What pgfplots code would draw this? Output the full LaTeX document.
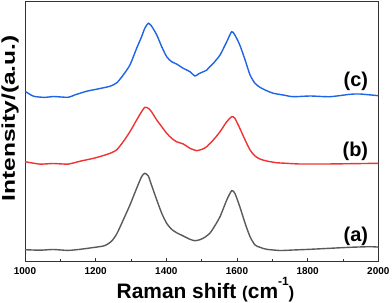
\documentclass[border=0pt]{standalone}
\usepackage{fontspec}
\setmainfont{Liberation Sans}
\usepackage{pgfplots}
\pgfplotsset{compat=1.18}
\definecolor{cblue}{RGB}{30,100,230}
\definecolor{cred}{RGB}{240,50,50}
\definecolor{cgray}{RGB}{90,90,90}
\begin{document}
\begin{tikzpicture}
\begin{axis}[
  at={(25bp,41.3bp)}, anchor=south west,
  scale only axis, width=353.3bp, height=260bp,
  xmin=1000, xmax=2000, ymin=0, ymax=260,
  xtick={1000,1200,...,2000}, minor xtick={1100,1300,...,1900},
  ytick=\empty,
  tick align=inside, xtick pos=lower,
  major tick length=4bp, minor tick length=3bp,
  axis line style={color=black!80, line width=0.8bp},
  every tick/.style={color=black!80, line width=0.8bp},
  /pgf/number format/assume math mode=true,
  /pgf/number format/1000 sep={},
  xticklabel style={font=\bfseries\fontsize{10}{11}\selectfont, yshift=-2bp},
  xlabel={Raman shift {\fontsize{17}{17}\selectfont(}cm\raisebox{0.62em}{\fontsize{12}{12}\selectfont -1}{\fontsize{17}{17}\selectfont)}},
  xlabel style={at={(axis description cs:0.511,-0.1408)}, anchor=base, font=\bfseries\fontsize{21}{22}\selectfont},
  ylabel={\scalebox{1.33}[1]{Intensity/(a.u.)}},
  ylabel style={at={(axis description cs:-0.0425,0.551)}, anchor=center, font=\bfseries\fontsize{18.5}{20}\selectfont},
]
\addplot[color=cgray, line width=1.4bp, smooth, tension=0.4] coordinates {
(1000,12) (1042,11.5) (1080,12.2) (1122,11.3) (1156,12.4) (1194,14.2) (1225,16) (1245,20.5)
(1260,28) (1278,41.7) (1297,56.7) (1316,73.4) (1330,85) (1339,88.4) (1349,85.7) (1358,76.7)
(1373,61.7) (1387,48.4) (1401,38.4) (1415,32.4) (1429,29) (1448,25.7) (1467,22.4) (1481,21)
(1495,22) (1509,24.4) (1523,28.4) (1533,33.4) (1552,45) (1571,61.7) (1585,71) (1594,68.4)
(1608,55) (1623,38.4) (1637,25) (1651,16.7) (1665,14.4) (1684,12.4) (1722,11.2) (1759,11.7)
(1807,12.4) (1863,13.4) (1920,14.4) (1976,15) (2000,14.6)
};
\addplot[color=cred, line width=1.4bp, smooth, tension=0.4] coordinates {
(1000,100) (1042,97.6) (1080,98.2) (1122,97.6) (1156,100.5) (1194,103.4) (1225,106.5) (1245,109)
(1260,112) (1278,120) (1297,130) (1316,141.7) (1330,150) (1339,154.4) (1349,153.4) (1358,150)
(1373,141.7) (1387,135) (1401,128.4) (1415,123.4) (1429,120) (1448,117.7) (1467,113.4) (1486,111)
(1495,111.7) (1505,113) (1514,115) (1533,121.7) (1552,130) (1571,140) (1585,145) (1594,143.4)
(1608,133.4) (1623,121.7) (1637,111.7) (1651,105.7) (1665,102.7) (1684,100.7) (1712,99) (1740,98.4)
(1778,97.7) (1850,97.7) (1920,98) (2000,98.4)
};
\addplot[color=cblue, line width=1.4bp, smooth, tension=0.4] coordinates {
(1000,170.5) (1024,165.5) (1057,164.3) (1080,165.2) (1122,164.4) (1141,166.8) (1175,170.5) (1203,172.5)
(1241,175.5) (1260,179) (1278,186.7) (1297,196.7) (1316,213.4) (1330,225) (1339,233.4)
(1349,238.4) (1358,235.7) (1373,226.7) (1387,215) (1401,205) (1415,200) (1429,197.7) (1448,193.4)
(1467,190) (1481,185.7) (1492,188) (1505,190) (1514,191.5) (1523,195) (1533,198.4) (1552,206.7)
(1571,220) (1585,230) (1594,226.7) (1608,216.7) (1623,201.7) (1637,186.7) (1651,178.4) (1665,174.4)
(1684,171) (1703,168.4) (1731,166.7) (1759,165) (1807,165.7) (1863,165) (1920,167.4) (1948,167.7)
(2000,166)
};
\node[anchor=east, font=\bfseries\fontsize{20}{21}\selectfont] at (axis cs:1981,180.7) {(c)};
\node[anchor=east, font=\bfseries\fontsize{20}{21}\selectfont] at (axis cs:1981,110) {(b)};
\node[anchor=east, font=\bfseries\fontsize{20}{21}\selectfont] at (axis cs:1981,25) {(a)};
\end{axis}
\pgfresetboundingbox
\path (0,0) rectangle (392bp,303bp);
\end{tikzpicture}
\end{document}
